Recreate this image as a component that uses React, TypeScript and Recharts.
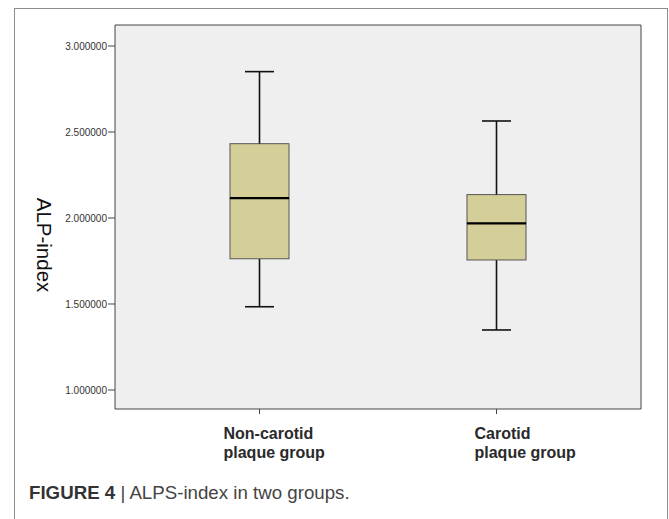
import { ComposedChart, Bar, XAxis, YAxis, CartesianGrid } from "recharts";

// box plot values
const groups = ["Non-carotid|plaque group", "Carotid|plaque group"];
const mins = [1.484, 1.349];
const q1s = [1.763, 1.756];
const medians = [2.115, 1.969];
const q3s = [2.432, 2.136];
const maxs = [2.851, 2.564];
const yTicks = [1.0, 1.5, 2.0, 2.5, 3.0];

const labelShift = [-36, -22];

const BOX_FILL = "#d4cf99";
const FONT = "'Liberation Sans', Arial, sans-serif";

const data = groups.map((name, i) => ({
  name,
  base: mins[i],
  lowWhisker: q1s[i] - mins[i],
  lowBox: medians[i] - q1s[i],
  highBox: q3s[i] - medians[i],
  highWhisker: maxs[i] - q3s[i],
}));

const LowWhisker = (props: any) => {
  const { x, y, width, height } = props;
  const cx = x + width / 2;
  const bottom = y + height;
  return (
    <g stroke="#111" strokeWidth={1.6}>
      <line x1={cx} x2={cx} y1={y} y2={bottom} />
      <line x1={cx - 14.5} x2={cx + 14.5} y1={bottom} y2={bottom} />
    </g>
  );
};

const HighWhisker = (props: any) => {
  const { x, y, width, height } = props;
  const cx = x + width / 2;
  return (
    <g stroke="#111" strokeWidth={1.6}>
      <line x1={cx} x2={cx} y1={y} y2={y + height} />
      <line x1={cx - 14.5} x2={cx + 14.5} y1={y} y2={y} />
    </g>
  );
};

const LowBox = (props: any) => {
  const { x, y, width, height } = props;
  return <rect x={x} y={y} width={width} height={height} fill={BOX_FILL} stroke="#555" strokeWidth={1} />;
};

const HighBox = (props: any) => {
  const { x, y, width, height } = props;
  return (
    <g>
      <rect x={x} y={y} width={width} height={height} fill={BOX_FILL} stroke="#555" strokeWidth={1} />
      <line x1={x} x2={x + width} y1={y + height} y2={y + height} stroke="#000" strokeWidth={2.2} />
    </g>
  );
};

const GroupTick = (props: any) => {
  const { x, y, payload, index } = props;
  const [l1, l2] = String(payload.value).split("|");
  const tx = x + labelShift[index % labelShift.length];
  return (
    <g>
      <text x={tx} y={y + 23} textAnchor="start" fontSize={16} fontWeight="bold" fill="#2a2a2a" fontFamily={FONT}>
        {l1}
      </text>
      <text x={tx} y={y + 42} textAnchor="start" fontSize={16} fontWeight="bold" fill="#2a2a2a" fontFamily={FONT}>
        {l2}
      </text>
    </g>
  );
};

const YLabel = (props: any) => {
  const vb = props.viewBox || {};
  const x = vb.x + 44;
  const y = vb.y + vb.height / 2 + 28;
  return (
    <text
      x={x}
      y={y}
      transform={`rotate(90, ${x}, ${y})`}
      textAnchor="middle"
      dominantBaseline="central"
      fontSize={20.5}
      fill="#111"
      fontFamily={FONT}
    >
      ALP-index
    </text>
  );
};

const App = () => {
  return (
    <div style={{ position: "absolute", top: 0, left: 0, width: 669, height: 519, background: "#fff", overflow: "hidden" }}>
      <div style={{ position: "absolute", left: 0, top: 0 }}>
        <ComposedChart width={669} height={470} data={data} margin={{ top: 24, right: 27, bottom: 0, left: 0 }}>
          <CartesianGrid fill="#efefef" horizontal={false} vertical={false} />
          <XAxis
            dataKey="name"
            padding={{ left: 26, right: 26 }}
            height={61}
            stroke="#444"
            tickSize={5}
            tickLine={{ stroke: "#444" }}
            tick={<GroupTick />}
            interval={0}
          />
          <XAxis
            xAxisId="top"
            dataKey="name"
            orientation="top"
            height={1}
            tick={false}
            tickLine={false}
            axisLine={{ stroke: "#444" }}
          />
          <YAxis
            type="number"
            domain={[0.8895, 3.1221]}
            allowDataOverflow
            ticks={yTicks}
            interval={0}
            width={115}
            stroke="#444"
            tickSize={7}
            tickMargin={1}
            tickFormatter={(v: number) => v.toFixed(6)}
            tick={{ fontSize: 10, fill: "#333", fontFamily: FONT }}
            label={{ content: <YLabel /> }}
          />
          <YAxis
            yAxisId="right"
            orientation="right"
            type="number"
            domain={[0.8895, 3.1221]}
            width={1}
            tick={false}
            tickLine={false}
            axisLine={{ stroke: "#444" }}
          />
          <Bar dataKey="base" stackId="box" fill="transparent" barSize={59} isAnimationActive={false} />
          <Bar dataKey="lowWhisker" stackId="box" barSize={59} shape={<LowWhisker />} isAnimationActive={false} />
          <Bar dataKey="lowBox" stackId="box" barSize={59} shape={<LowBox />} isAnimationActive={false} />
          <Bar dataKey="highBox" stackId="box" barSize={59} shape={<HighBox />} isAnimationActive={false} />
          <Bar dataKey="highWhisker" stackId="box" barSize={59} shape={<HighWhisker />} isAnimationActive={false} />
        </ComposedChart>
      </div>
      <div
        style={{
          position: "absolute",
          left: 29,
          top: 483,
          fontSize: 18.7,
          fontFamily: FONT,
          color: "#444",
          whiteSpace: "nowrap",
          lineHeight: "20px",
        }}
      >
        <span style={{ fontWeight: "bold", color: "#333" }}>FIGURE 4</span> | ALPS-index in two groups.
      </div>
      <div
        style={{
          position: "absolute",
          left: 14,
          top: 8,
          width: 654,
          height: 540,
          border: "1px solid #8c8c8c",
          boxSizing: "border-box",
          pointerEvents: "none",
        }}
      />
    </div>
  );
};

export default App;
